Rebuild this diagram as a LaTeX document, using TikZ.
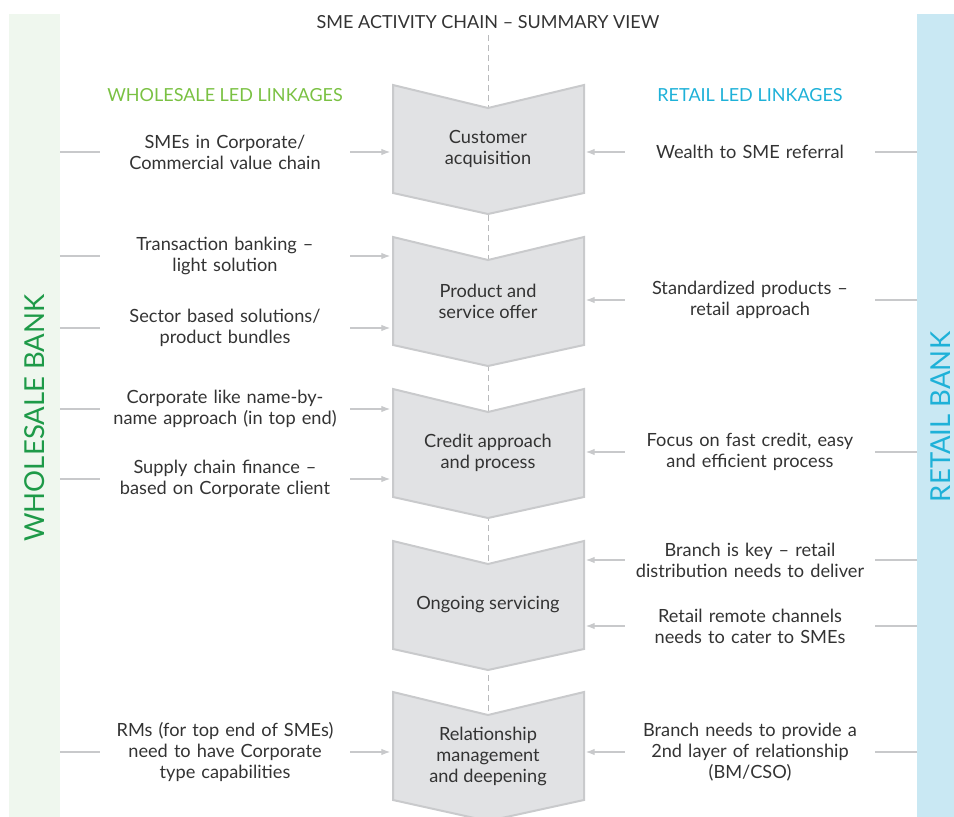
\documentclass[tikz,border=0pt]{standalone}
\usepackage{fontspec}
\setmainfont{Lato}
\usetikzlibrary{arrows.meta}

\definecolor{txtgray}{HTML}{333333}
\definecolor{linegray}{HTML}{C8C9CB}
\definecolor{stagefill}{HTML}{E1E2E4}
\definecolor{stageline}{HTML}{C9CACC}
\definecolor{wholesalebg}{HTML}{EFF7EE}
\definecolor{retailbg}{HTML}{C9E8F3}
\definecolor{wholesaledark}{HTML}{1E9A48}
\definecolor{wholesalelight}{HTML}{7AC143}
\definecolor{retailcyan}{HTML}{1EB1D8}

\tikzset{
  linktext/.style={text width=250pt, align=center, inner sep=0pt, text=txtgray,
    font=\fontsize{18.2}{21}\selectfont},
  stagetext/.style={minimum width=195pt, align=center, inner sep=0pt, text=txtgray,
    font=\fontsize{18.2}{21}\selectfont},
  headtext/.style={inner sep=0pt, font=\fontsize{18}{21}\selectfont},
  banktext/.style={inner sep=0pt, rotate=90, font=\fontsize{27.5}{30}\selectfont},
  feed/.style={draw=linegray, line width=1.2pt},
  feedarrow/.style={feed, -{Latex[length=9pt,width=6.5pt]}},
  stageshape/.style={fill=stagefill, draw=stageline, line width=2pt, line join=miter}
}

\begin{document}
\begin{tikzpicture}[x=1pt,y=-1pt]
\useasboundingbox (0,0) rectangle (954,817);
\clip (0,0) rectangle (954,817);

% side bars
\node[fill=wholesalebg, inner sep=0pt, minimum width=51pt, minimum height=820pt, anchor=north west] (wbar) at (9,14) {};
\node[fill=retailbg, inner sep=0pt, minimum width=60pt, minimum height=820pt, anchor=north west] (rbar) at (917,14) {};
\node[banktext, text=wholesaledark] (wbank) at (35,418) {WHOLESALE BANK};
\node[banktext, text=retailcyan] (rbank) at (941,417) {RETAIL BANK};

% headings
\node[headtext, text=txtgray] (title) at (488,22) {SME ACTIVITY CHAIN – SUMMARY VIEW};
\node[headtext, text=wholesalelight] (whead) at (225,95) {WHOLESALE LED LINKAGES};
\node[headtext, text=retailcyan] (rhead) at (750,95) {RETAIL LED LINKAGES};

% centre line
\coordinate (ctop) at (488,35);
\coordinate (cbot) at (488,817);
\draw[linegray!80!gray, line width=1pt, dash pattern=on 6pt off 4pt] (ctop) -- (cbot);

% chevrons
\foreach \n/\t/\lbl in {1/85/{Customer\\acquisition},
                        2/237/{Product and\\service offer},
                        3/389/{Credit approach\\and process},
                        4/541/{Ongoing servicing},
                        5/692/{Relationship\\management\\and deepening}}{
  \path[stageshape] (393,\t) -- (488,\t+23) -- (584,\t) -- (584,\t+108)
    -- (488,\t+129) -- (393,\t+108) -- cycle;
  \node[stagetext] (c\n) at (488,\t+64) {\lbl};
}

% wholesale linkages
\node[linktext] (l1) at (225,152) {SMEs in Corporate/\\Commercial value chain};
\node[linktext] (l2) at (225,256) {Transaction banking –\\light solution};
\node[linktext] (l3) at (225,328) {Sector based solutions/\\product bundles};
\node[linktext] (l4) at (225,409) {Corporate like name-by-\\name approach (in top end)};
\node[linktext] (l5) at (225,479) {Supply chain finance –\\based on Corporate client};
\node[linktext] (l6) at (225,752) {RMs (for top end of SMEs)\\need to have Corporate\\type capabilities};

\foreach \l/\c in {l1/c1, l2/c2, l3/c2, l4/c3, l5/c3, l6/c5}{
  \draw[feed] (wbar.east |- \l) -- (\l.west);
  \draw[feedarrow] (\l.east) -- (\c.west |- \l);
}

% retail linkages
\node[linktext] (r1) at (750,152) {Wealth to SME referral};
\node[linktext] (r2) at (750,300) {Standardized products –\\retail approach};
\node[linktext] (r3) at (750,452) {Focus on fast credit, easy\\and efficient process};
\node[linktext] (r4) at (750,560) {Branch is key – retail\\distribution needs to deliver};
\node[linktext] (r5) at (750,626) {Retail remote channels\\needs to cater to SMEs};
\node[linktext] (r6) at (750,752) {Branch needs to provide a\\2nd layer of relationship\\(BM/CSO)};

\foreach \r/\c in {r1/c1, r2/c2, r3/c3, r4/c4, r5/c4, r6/c5}{
  \draw[feed] (rbar.west |- \r) -- (\r.east);
  \draw[feedarrow] (\r.west) -- (\c.east |- \r);
}
\end{tikzpicture}
\end{document}
